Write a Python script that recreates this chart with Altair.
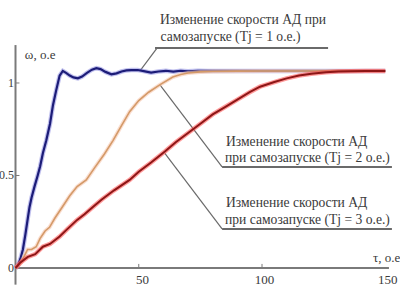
import altair as alt
import pandas as pd

# ---- data ----
blue_t = [0, 0.9, 2, 3, 4, 5, 5.7, 6.5, 7.7, 9, 10, 11.1, 12.5, 14, 15.2, 16.5, 17.9, 19.2, 20.5, 22, 23.5,
          25.3, 27, 29, 31, 32.8, 34.5, 36.5, 38.9, 41, 43, 45, 47, 49.6, 52, 55, 58, 61, 64, 67, 70, 74, 78,
          90, 110, 130, 150]
blue_v = [0, 0.01, 0.05, 0.1, 0.18, 0.27, 0.33, 0.38, 0.44, 0.5, 0.55, 0.62, 0.69, 0.78, 0.88, 0.96, 1.04,
          1.065, 1.055, 1.04, 1.03, 1.025, 1.035, 1.055, 1.072, 1.08, 1.075, 1.06, 1.047, 1.052, 1.062, 1.068,
          1.07, 1.07, 1.064, 1.056, 1.062, 1.066, 1.061, 1.066, 1.063, 1.066, 1.065, 1.065, 1.065, 1.065, 1.065]

orange_t = [0, 2.3, 4.9, 6.5, 8.4, 10, 12, 13.8, 16, 19, 22, 25, 28.7, 32, 36, 39.6, 43, 46.3, 50, 54, 58.5,
            63.8, 67, 70, 75, 80, 90, 100, 120, 150]
orange_v = [0, 0.03, 0.1, 0.1, 0.115, 0.16, 0.2, 0.22, 0.27, 0.33, 0.39, 0.44, 0.476, 0.54, 0.615, 0.69, 0.77,
            0.845, 0.905, 0.95, 0.99, 1.032, 1.046, 1.054, 1.06, 1.062, 1.064, 1.065, 1.065, 1.065]

red_t = [0, 2, 5, 8, 11.1, 14, 17.9, 21, 25, 28, 31.4, 35, 40, 46.3, 50, 55, 60.6, 65, 70, 75, 80, 85, 90, 95,
         99.2, 105, 110, 115, 120, 126, 131, 136, 142, 150]
red_v = [0, 0.03, 0.06, 0.075, 0.115, 0.13, 0.17, 0.21, 0.26, 0.29, 0.33, 0.37, 0.42, 0.476, 0.52, 0.57, 0.63,
         0.68, 0.73, 0.78, 0.83, 0.87, 0.91, 0.95, 0.98, 1.005, 1.025, 1.04, 1.05, 1.058, 1.062, 1.064, 1.065, 1.065]

x_ticks = [50, 100, 150]
x_tick_labels = ["50", "100", "150"]
y_ticks = [0, 0.5, 1]
y_tick_labels = ["0", "0.5", "1"]

label1 = ["Изменение скорости АД при", "самозапуске (Tj = 1 о.е.)"]
label2 = ["Изменение скорости АД", "при самозапуске (Tj = 2 о.е.)"]
label3 = ["Изменение скорости АД", "при самозапуске (Tj = 3 о.е.)"]
y_title = "ω, о.е"
x_title = "τ, о.е"

# ---- scales ----
xs = alt.Scale(domain=[-6.29, 155.98], nice=False, zero=False)
ys = alt.Scale(domain=[-0.173, 1.4486], nice=False, zero=False)
FONT = "Liberation Serif, Times New Roman, DejaVu Serif, serif"
AX = "#7a7a7a"
TXT = "#3a3a3a"


def X(f="t"):
    return alt.X(f"{f}:Q", scale=xs, axis=None)


def Y(f="v"):
    return alt.Y(f"{f}:Q", scale=ys, axis=None)


def curve(t, v, halo, halo_w, halo_op, core, core_w):
    df = pd.DataFrame({"t": t, "v": v})
    h = alt.Chart(df).mark_line(color=halo, strokeWidth=halo_w, opacity=halo_op, interpolate="linear").encode(x=X(), y=Y())
    c = alt.Chart(df).mark_line(color=core, strokeWidth=core_w, interpolate="linear").encode(x=X(), y=Y())
    return h + c


# axes lines
axes_df = pd.DataFrame({"t": [0, 0], "t2": [0, 151.5], "v": [-0.09, 0], "v2": [1.205, 0]})
axes = alt.Chart(axes_df).mark_rule(color=AX, strokeWidth=2).encode(
    x=X("t"), x2="t2:Q", y=Y("v"), y2="v2:Q")

ytk_df = pd.DataFrame({"t": [0] * 2, "t2": [1.6] * 2, "v": y_ticks[1:]})
ytk = alt.Chart(ytk_df).mark_rule(color=AX, strokeWidth=1).encode(x=X("t"), x2="t2:Q", y=Y("v"))
xtk_df = pd.DataFrame({"t": x_ticks[:2], "v": [0, 0], "v2": [0.022, 0.022]})
xtk = alt.Chart(xtk_df).mark_rule(color=AX, strokeWidth=1).encode(x=X("t"), y=Y("v"), y2="v2:Q")

ylab_df = pd.DataFrame({"t": [-0.6] * 3, "v": y_ticks, "s": y_tick_labels})
ylab = alt.Chart(ylab_df).mark_text(font=FONT, fontSize=12, color=TXT, align="right", baseline="middle").encode(
    x=X("t"), y=Y("v"), text="s:N")
xlab_df = pd.DataFrame({"t": [51.5, 101, 151], "v": [-0.065] * 3, "s": x_tick_labels})
xlab = alt.Chart(xlab_df).mark_text(font=FONT, fontSize=13, color=TXT, align="center", baseline="middle").encode(
    x=X("t"), y=Y("v"), text="s:N")

titles_df = pd.DataFrame({"t": [3.8, 145], "v": [1.151, 0.054], "s": [y_title, x_title]})
titles = alt.Chart(titles_df).mark_text(font=FONT, fontSize=13, color=TXT, align="left", baseline="middle").encode(
    x=X("t"), y=Y("v"), text="s:N")

# leaders (slanted) and underlines
lead_df = pd.DataFrame({
    "t": [57.4, 58.6, 60.6],
    "v": [1.189, 0.99, 0.62],
    "t2": [50.5, 83.8, 83.8],
    "v2": [1.065, 0.546, 0.211],
})
leaders = alt.Chart(lead_df).mark_rule(color="#6a6a6a", strokeWidth=1.2).encode(
    x=X("t"), y=Y("v"), x2="t2:Q", y2="v2:Q")
under_df = pd.DataFrame({"t": [56.6, 83.8, 83.8], "t2": [126.8, 152.7, 152.7], "v": [1.189, 0.546, 0.211]})
unders = alt.Chart(under_df).mark_rule(color="#6a6a6a", strokeWidth=2).encode(x=X("t"), x2="t2:Q", y=Y("v"))

ann_df = pd.DataFrame({
    "t": [58.6, 58.8, 85.4, 85.0, 85.4, 85.0],
    "v": [1.341, 1.249, 0.681, 0.595, 0.351, 0.262],
    "s": label1 + label2 + label3,
})
ann = alt.Chart(ann_df).mark_text(font=FONT, fontSize=13.6, color=TXT, align="left", baseline="middle").encode(
    x=X("t"), y=Y("v"), text="s:N")

blue = curve(blue_t, blue_v, "#8c8ce0", 4.5, 0.55, "#1c1c78", 2.2)
orange = curve(orange_t, orange_v, "#f6c8b0", 4, 0.6, "#d49a68", 1.6)
red = curve(red_t, red_v, "#ff4a4a", 4.5, 0.55, "#8e1616", 2.0)

chart = alt.layer(
    axes, ytk, xtk, ylab, xlab, titles, leaders, unders, ann, blue, orange, red
).properties(
    width=400, height=300, autosize=alt.AutoSizeParams(type="none"), padding=0,
    background="white"
).configure_view(strokeWidth=0)

chart.save("out.html", embed_options={"renderer": "svg", "actions": False})
